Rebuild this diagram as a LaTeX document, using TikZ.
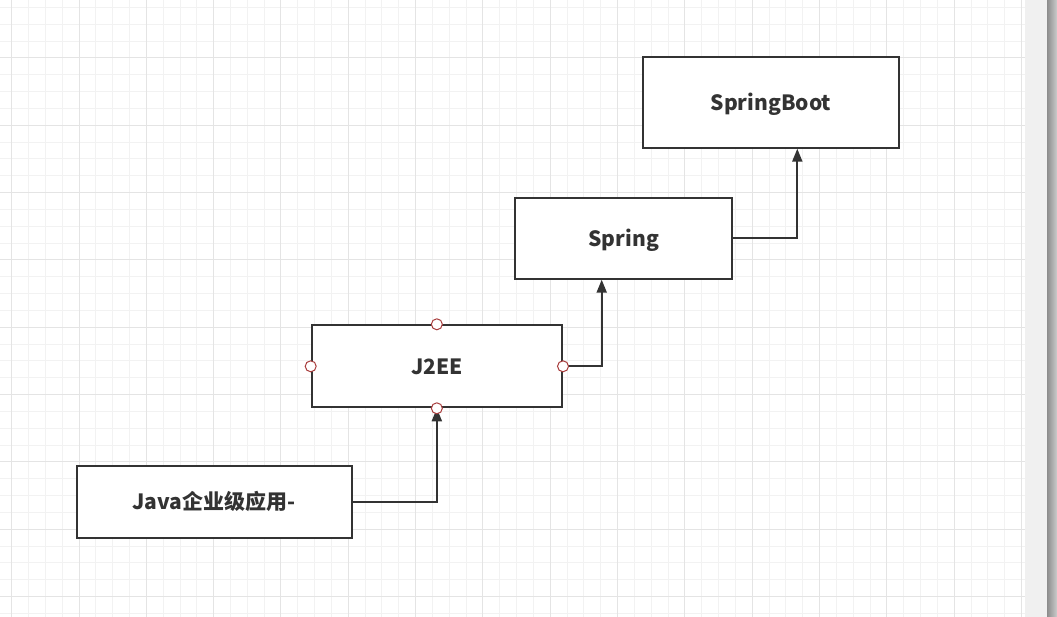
\documentclass[tikz,border=0pt]{standalone}
\usepackage{fontspec}
\setmainfont{Noto Sans CJK SC}
\usetikzlibrary{arrows.meta}
\definecolor{minorgrid}{HTML}{F2F2F2}
\definecolor{majorgrid}{HTML}{E4E4E4}
\definecolor{ink}{HTML}{333333}
\definecolor{portc}{HTML}{A83C3C}
\definecolor{panel}{HTML}{F0F0F0}
\tikzset{
  box/.style={draw=ink, line width=2pt, fill=white, rectangle, inner sep=0pt,
    text=ink, font=\fontsize{21}{25}\selectfont\bfseries,
    text height=16pt, text depth=0pt},
  conn/.style={draw=ink, line width=2pt, -{Triangle[length=13pt,width=10pt]}},
  port/.style={circle, draw=portc, line width=1pt, fill=white, inner sep=0pt, minimum size=11pt}
}
\begin{document}
\begin{tikzpicture}[x=1pt,y=-1pt]
\useasboundingbox (0,0) rectangle (1057,617);
\fill[white] (0,0) rectangle (1057,617);
% grid
\foreach \k in {0,...,60}{
  \draw[minorgrid, line width=1pt] ({11.7+16.83*\k},0) -- ({11.7+16.83*\k},617);
}
\foreach \k in {0,...,36}{
  \draw[minorgrid, line width=1pt] (0,{7.5+16.83*\k}) -- (1025,{7.5+16.83*\k});
}
\foreach \k in {0,4,...,60}{
  \draw[majorgrid, line width=1pt] ({11.7+16.83*\k},0) -- ({11.7+16.83*\k},617);
}
\foreach \k in {-1,3,...,35}{
  \draw[majorgrid, line width=1pt] (0,{7.5+16.83*\k}) -- (1025,{7.5+16.83*\k});
}
% right panel
\fill[panel] (1025,0) rectangle (1047,617);
\shade[left color=black!45, right color=black!20] (1047,0) rectangle (1057,617);
% boxes
\node[box, minimum width=255.4pt, minimum height=90.4pt] (sb) at (771,102.5) {SpringBoot};
\node[box, minimum width=217pt, minimum height=81pt] (spring) at (623.8,238.2) {Spring};
\node[box, minimum width=250.3pt, minimum height=82pt] (j2ee) at (436.85,366.3) {J2EE};
\node[box, minimum width=275pt, minimum height=71.7pt] (java) at (214.2,501.85) {Java企业级应用-};
% connectors
\draw[conn] (java.east) -| (j2ee.south);
\draw[conn] (j2ee.east) -| ([xshift=-22.1pt]spring.south);
\draw[conn] (spring.east) -| ([xshift=26.3pt]sb.south);
% ports
\node[port] (pn) at (j2ee.north) {};
\node[port] (ps) at (j2ee.south) {};
\node[port] (pw) at (j2ee.west) {};
\node[port] (pe) at (j2ee.east) {};
\end{tikzpicture}
\end{document}
